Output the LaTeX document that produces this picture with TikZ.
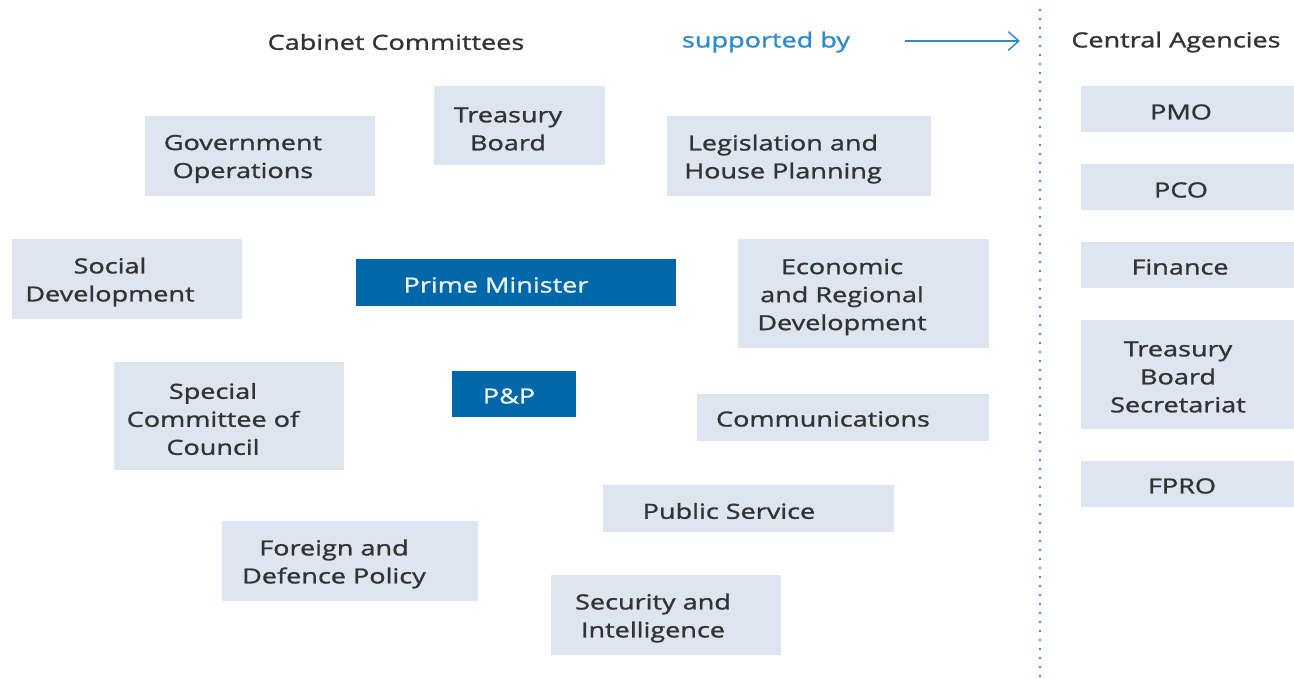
\documentclass[tikz,border=0pt]{standalone}
\usepackage{fontspec}
\setmainfont{Open Sans}[FakeStretch=1.3, FakeBold=1.3]
\usetikzlibrary{arrows.meta}
\definecolor{boxfill}{HTML}{DDE5F0}
\definecolor{pmblue}{HTML}{0067AB}
\definecolor{txtgrey}{HTML}{333333}
\definecolor{linkblue}{HTML}{2F8BCB}
\tikzset{
  lbox/.style={fill=boxfill, draw=none, inner sep=0pt},
  dbox/.style={fill=pmblue, draw=none, inner sep=0pt},
  txt/.style={text=txtgrey, align=center, inner sep=0pt, yshift=-1.5pt, font=\fontsize{15.6pt}{21pt}\selectfont},
  wtxt/.style={txt, text=white!92!pmblue},
  head/.style={txt},
}
\newcommand{\bx}[5]{% name, x1, y1, x2, y2
  \node[lbox, minimum width={(#4-#2)*0.75pt}, minimum height={(#5-#3)*0.75pt}] (#1) at ({(#2+#4)/2},{(#3+#5)/2}) {};}
\newcommand{\dbx}[5]{%
  \node[dbox, minimum width={(#4-#2)*0.75pt}, minimum height={(#5-#3)*0.75pt}] (#1) at ({(#2+#4)/2},{(#3+#5)/2}) {};}
\begin{document}
\begin{tikzpicture}[x=0.75pt, y=-0.75pt]
\useasboundingbox (0,0) rectangle (1294,678);
% headings
\node[head] (hcab) at (396,40) {Cabinet Committees};
\node[head, text=linkblue] (hsup) at (766,40) {supported by};
\node[head] (hcen) at (1176,40) {Central Agencies};
\coordinate (a1) at (905,41);
\coordinate (a2) at (1020,41);
\draw[linkblue, line width=1.1pt, -{Straight Barb[length=8pt, width=14pt, line width=1.1pt]}] (a1) -- (a2);
% dotted separator
\coordinate (d1) at (1040,10);
\coordinate (d2) at (1040,678);
\draw[linkblue, line width=2.2pt, line cap=round, dash pattern=on 0pt off 6.75pt] (d1) -- (d2);
% cabinet committee boxes
\bx{bgo}{145}{116}{375}{196}
\node[txt] (tgo) at (243,157) {Government\\Operations};
\bx{btb}{434}{86}{605}{165}
\node[txt] (ttb) at (508,127) {Treasury\\Board};
\bx{blh}{667}{116}{931}{196}
\node[txt] (tlh) at (783,157) {Legislation and\\House Planning};
\bx{bsd}{12}{239}{242}{319}
\node[txt] (tsd) at (110,280) {Social\\Development};
\dbx{bpm}{356}{259}{676}{306}
\node[wtxt] (tpm) at (496,283) {Prime Minister};
\bx{berd}{738}{239}{989}{348}
\node[txt] (terd) at (842,295) {Economic\\and Regional\\Development};
\bx{bsc}{114}{362}{344}{470}
\node[txt] (tsc) at (213,417) {Special\\Committee of\\Council};
\dbx{bpp}{452}{371}{576}{417}
\node[wtxt] (tpp) at (509,394) {P\&P};
\bx{bcom}{697}{394}{989}{441}
\node[txt] (tcom) at (823,417) {Communications};
\bx{bps}{603}{485}{894}{532}
\node[txt] (tps) at (729,509) {Public Service};
\bx{bfd}{222}{521}{478}{601}
\node[txt] (tfd) at (334,562) {Foreign and\\Defence Policy};
\bx{bsi}{551}{575}{781}{655}
\node[txt] (tsi) at (653,616) {Security and\\Intelligence};
% central agencies
\bx{bpmo}{1081}{86}{1294}{132}
\node[txt] (tpmo) at (1181,110) {PMO};
\bx{bpco}{1081}{164}{1294}{210}
\node[txt] (tpco) at (1181,188) {PCO};
\bx{bfin}{1081}{242}{1294}{288}
\node[txt] (tfin) at (1180,265) {Finance};
\bx{btbs}{1081}{320}{1294}{429}
\node[txt] (ttbs) at (1178,375) {Treasury\\Board\\Secretariat};
\bx{bfpro}{1081}{461}{1294}{507}
\node[txt] (tfpro) at (1182,484) {FPRO};
\end{tikzpicture}
\end{document}
